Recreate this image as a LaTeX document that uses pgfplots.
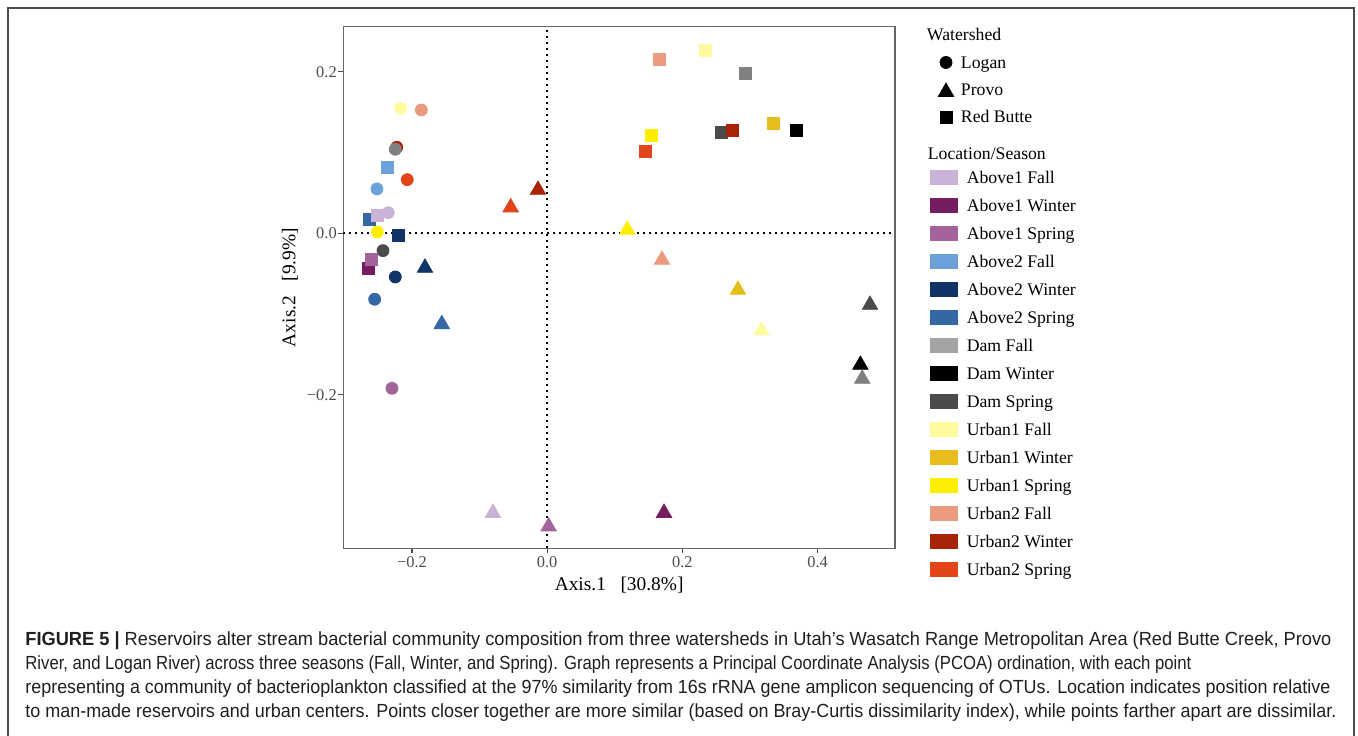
\documentclass[border=0pt]{standalone}
\usepackage{fontspec}
\setmainfont{Liberation Serif}
\newfontfamily\capfont{Liberation Sans}
\usepackage{graphicx}
\usepackage{pgfplots}
\pgfplotsset{compat=1.18}

\definecolor{AoF}{HTML}{CBB3D7}
\definecolor{AoW}{HTML}{761D62}
\definecolor{AoS}{HTML}{A3649C}
\definecolor{AtF}{HTML}{6CA2DB}
\definecolor{AtW}{HTML}{113468}
\definecolor{AtS}{HTML}{3467A4}
\definecolor{DF}{HTML}{808080}
\definecolor{DFl}{HTML}{A3A3A3}
\definecolor{DW}{HTML}{000000}
\definecolor{DS}{HTML}{4B4B4B}
\definecolor{UoF}{HTML}{FFFA9E}
\definecolor{UoW}{HTML}{E5BE1C}
\definecolor{UoS}{HTML}{FFEE00}
\definecolor{UtF}{HTML}{EB9A7F}
\definecolor{UtW}{HTML}{A82406}
\definecolor{UtS}{HTML}{E0461A}

\pgfplotsset{
  locseason/.style={
    scatter, only marks, forget plot, scatter src=explicit symbolic,
    scatter/classes={
      AoF={draw=AoF,fill=AoF}, AoW={draw=AoW,fill=AoW}, AoS={draw=AoS,fill=AoS},
      AtF={draw=AtF,fill=AtF}, AtW={draw=AtW,fill=AtW}, AtS={draw=AtS,fill=AtS},
      DF={draw=DF,fill=DF}, DW={draw=DW,fill=DW}, DS={draw=DS,fill=DS},
      UoF={draw=UoF,fill=UoF}, UoW={draw=UoW,fill=UoW}, UoS={draw=UoS,fill=UoS},
      UtF={draw=UtF,fill=UtF}, UtW={draw=UtW,fill=UtW}, UtS={draw=UtS,fill=UtS}
    }
  },
  colkey/.style={legend image code/.code={\fill[#1] (-6.75pt,-3.2pt) rectangle (6.75pt,3.8pt);}},
  common/.style={
    anchor=south west, at={(171.65pt,93.35pt)},
    scale only axis, width=275.85pt, height=260.8pt,
  }
}

\begin{document}
\begin{tikzpicture}
\useasboundingbox (0pt,0pt) rectangle (679pt,367.5pt);
\draw[black!70, line width=1.1pt] (4pt,-1pt) -- (4pt,363.5pt) -- (677pt,363.5pt) -- (677pt,-1pt);

\begin{axis}[
  common,
  xmin=-0.3016, xmax=0.5145, ymin=-0.3901, ymax=0.2558,
  axis line style={draw=black!60, line width=0.55pt},
  tick align=outside, major tick length=2.5pt,
  tick style={draw=black!70, line width=0.55pt},
  xtick={-0.2,0,0.2,0.4}, xticklabels={−0.2,0.0,0.2,0.4},
  ytick={-0.2,0,0.2}, yticklabels={−0.2,0.0,0.2},
  xtick pos=left, ytick pos=left,
  ticklabel style={font=\fontsize{8.2}{9}\selectfont, text=black!70},
  yticklabel style={xshift=2.75pt},
  xticklabel style={yshift=1.65pt},
  xlabel={Axis.1\ \ \ [30.8\%]}, ylabel={Axis.2\ \ \ [9.9\%]},
  label style={font=\fontsize{9.7}{11}\selectfont},
  xlabel style={at={(axis description cs:0.5,-0.0704)}, anchor=center},
  ylabel style={at={(axis description cs:-0.0966,0.5)}, anchor=center},
  legend style={at={(axis description cs:1.0785,1.0084)}, anchor=north west,
    draw=none, fill=none, inner sep=0pt, outer sep=0pt, row sep=0pt, column sep=3.66pt,
    nodes={inner sep=0pt, text height=9.25pt, text depth=4.4pt, font=\fontsize{8.85}{10}\selectfont}},
  legend cell align=left,
]
% reference lines at zero
\addplot[black, line width=1pt, dash pattern=on 1pt off 2pt, forget plot] coordinates {(0,-0.3901) (0,0.2558)};
\addplot[black, line width=1pt, dash pattern=on 1pt off 2pt, forget plot] coordinates {(-0.3016,0) (0.5145,0)};

% Logan (circles)
\addplot[locseason, mark=*, mark size=3pt] table[x=x,y=y,meta=c] {
x y c
-0.2226 0.1065 UtW
-0.2247 0.1040 DF
-0.2167 0.1548 UoF
-0.1862 0.1527 UtF
-0.2070 0.0664 UtS
-0.2518 0.0549 AtF
-0.2351 0.0255 AoF
-0.2513 0.0016 UoS
-0.2429 -0.0215 DS
-0.2247 -0.0541 AtW
-0.2552 -0.0817 AtS
-0.2296 -0.1920 AoS
};

% Provo (triangles)
\addplot[locseason, mark=triangle*, mark size=4.43pt] table[x=x,y=y,meta=c] {
x y c
-0.0136 0.0537 UtW
-0.0540 0.0320 UtS
-0.1808 -0.0428 AtW
-0.1559 -0.1126 AtS
0.1185 0.0042 UoS
0.1698 -0.0329 UtF
0.2822 -0.0701 UoW
0.4775 -0.0887 DS
0.3170 -0.1204 UoF
0.4633 -0.1630 DW
0.4660 -0.1803 DF
-0.0802 -0.3463 AoF
0.1728 -0.3463 AoW
0.0021 -0.3631 AoS
};

% Red Butte (squares)
\addplot[locseason, mark=square*, mark size=3pt] table[x=x,y=y,meta=c] {
x y c
-0.2636 0.0173 AtS
-0.2507 0.0227 AoF
-0.2370 0.0821 AtF
-0.2207 -0.0025 AtW
-0.2651 -0.0433 AoW
-0.2607 -0.0322 AoS
0.1664 0.2159 UtF
0.2345 0.2266 UoF
0.2930 0.1976 DF
0.1536 0.1217 UoS
0.1451 0.1015 UtS
0.2571 0.1251 DS
0.2744 0.1276 UtW
0.3345 0.1357 UoW
0.3680 0.1271 DW
};

\addlegendimage{empty legend}
\addlegendentry[text depth=4.4pt]{\hspace{-17pt}Watershed}
\addlegendimage{legend image code/.code={\draw[mark=*, mark size=3pt, black] plot coordinates {(0pt,0.4pt)};}}
\addlegendentry{Logan}
\addlegendimage{legend image code/.code={\draw[mark=triangle*, mark size=4.43pt, black] plot coordinates {(0pt,-0.7pt)};}}
\addlegendentry{Provo}
\addlegendimage{legend image code/.code={\draw[mark=square*, mark size=3pt, black] plot coordinates {(0pt,0.4pt)};}}
\addlegendentry{Red Butte}
\end{axis}

\begin{axis}[
  common,
  xmin=0, xmax=1, ymin=0, ymax=1, hide axis,
  legend style={at={(axis description cs:1.0635,0.7809)}, anchor=north west,
    draw=none, fill=none, inner sep=0pt, outer sep=0pt, row sep=0pt, column sep=4.5pt,
    nodes={inner sep=0pt, text height=9.5pt, text depth=4.5pt, font=\fontsize{8.85}{10}\selectfont}},
  legend cell align=left,
]
\addlegendimage{empty legend}
\addlegendentry[text depth=2.1pt]{\hspace{-19.5pt}Location/Season}
\addlegendimage{colkey=AoF}\addlegendentry{Above1 Fall}
\addlegendimage{colkey=AoW}\addlegendentry{Above1 Winter}
\addlegendimage{colkey=AoS}\addlegendentry{Above1 Spring}
\addlegendimage{colkey=AtF}\addlegendentry{Above2 Fall}
\addlegendimage{colkey=AtW}\addlegendentry{Above2 Winter}
\addlegendimage{colkey=AtS}\addlegendentry{Above2 Spring}
\addlegendimage{colkey=DFl}\addlegendentry{Dam Fall}
\addlegendimage{colkey=DW}\addlegendentry{Dam Winter}
\addlegendimage{colkey=DS}\addlegendentry{Dam Spring}
\addlegendimage{colkey=UoF}\addlegendentry{Urban1 Fall}
\addlegendimage{colkey=UoW}\addlegendentry{Urban1 Winter}
\addlegendimage{colkey=UoS}\addlegendentry{Urban1 Spring}
\addlegendimage{colkey=UtF}\addlegendentry{Urban2 Fall}
\addlegendimage{colkey=UtW}\addlegendentry{Urban2 Winter}
\addlegendimage{colkey=UtS}\addlegendentry{Urban2 Spring}
\end{axis}

\begin{scope}[every node/.style={anchor=base west, inner sep=0pt, text=black!88}]
\node at (12.5pt,45pt) {\resizebox{653pt}{\height}{\capfont\fontsize{9.5}{12}\selectfont\textbf{FIGURE 5 |} Reservoirs alter stream bacterial community composition from three watersheds in Utah’s Wasatch Range Metropolitan Area (Red Butte Creek, Provo}};
\node at (12.5pt,33pt) {\resizebox{583pt}{\height}{\capfont\fontsize{9.5}{12}\selectfont River, and Logan River) across three seasons (Fall, Winter, and Spring). Graph represents a Principal Coordinate Analysis (PCOA) ordination, with each point}};
\node at (12.5pt,21pt) {\resizebox{652.5pt}{\height}{\capfont\fontsize{9.5}{12}\selectfont representing a community of bacterioplankton classified at the 97\% similarity from 16s rRNA gene amplicon sequencing of OTUs. Location indicates position relative}};
\node at (12.5pt,9pt) {\resizebox{655.5pt}{\height}{\capfont\fontsize{9.5}{12}\selectfont to man-made reservoirs and urban centers. Points closer together are more similar (based on Bray-Curtis dissimilarity index), while points farther apart are dissimilar.}};
\end{scope}
\end{tikzpicture}
\end{document}
